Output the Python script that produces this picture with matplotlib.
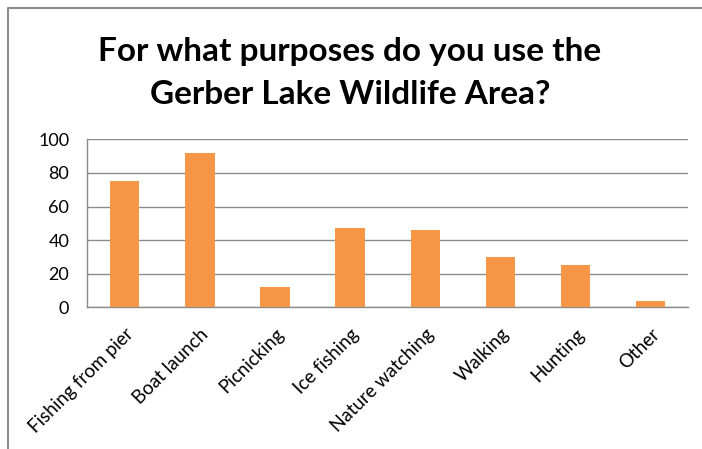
import numpy as np
from matplotlib import pyplot as plt
from matplotlib.lines import Line2D

# survey answers
categories = ["Fishing from pier", "Boat launch", "Picnicking", "Ice fishing",
              "Nature watching", "Walking", "Hunting", "Other"]
counts = [75, 92, 12, 47, 46, 30, 25, 4]
y_ticks = [0, 20, 40, 60, 80, 100]
title_lines = ["For what purposes do you use the", "Gerber Lake Wildlife Area?"]

plt.rcParams['font.family'] = ['Lato', 'DejaVu Sans']

W, H = 702, 449
fig = plt.figure(figsize=(W / 100, H / 100), dpi=100)
ax = fig.add_axes([87.3 / W, 1 - 307.3 / H, (688 - 87.3) / W, (307.3 - 139.3) / H])

x = np.arange(len(categories))
ax.bar(x, counts, width=0.39, color='#F79646', zorder=3)

ax.set_xlim(-0.5, len(categories) - 0.5)
ax.set_ylim(0, 100)
ax.set_yticks(y_ticks)
ax.set_xticks(x)
ax.set_xticklabels(categories, rotation=45, ha='right', va='top', rotation_mode='anchor',
                   fontsize=13.5, color='#000000')
ax.tick_params(axis='y', labelsize=13, length=0, pad=13)
ax.tick_params(axis='x', length=0, pad=13)
ax.grid(axis='y', color='#8c8c8c', linewidth=1, zorder=0)

for side in ['top', 'right']:
    ax.spines[side].set_visible(False)
for side in ['left', 'bottom']:
    ax.spines[side].set_color('#8c8c8c')
    ax.spines[side].set_linewidth(1)

# two title lines
fig.text(350 / W, 1 - 51 / H, title_lines[0], ha='center', va='center',
         fontsize=24, fontweight='bold')
fig.text(350 / W, 1 - 94 / H, title_lines[1], ha='center', va='center',
         fontsize=24, fontweight='bold')

# chart border (only top and left edges are inside the image)
fig.add_artist(Line2D([8 / W, 8 / W, 1], [0, 1 - 8 / H, 1 - 8 / H],
                      transform=fig.transFigure, color='#8c8c8c', linewidth=1.5))

fig.savefig('out.png', dpi=100)
